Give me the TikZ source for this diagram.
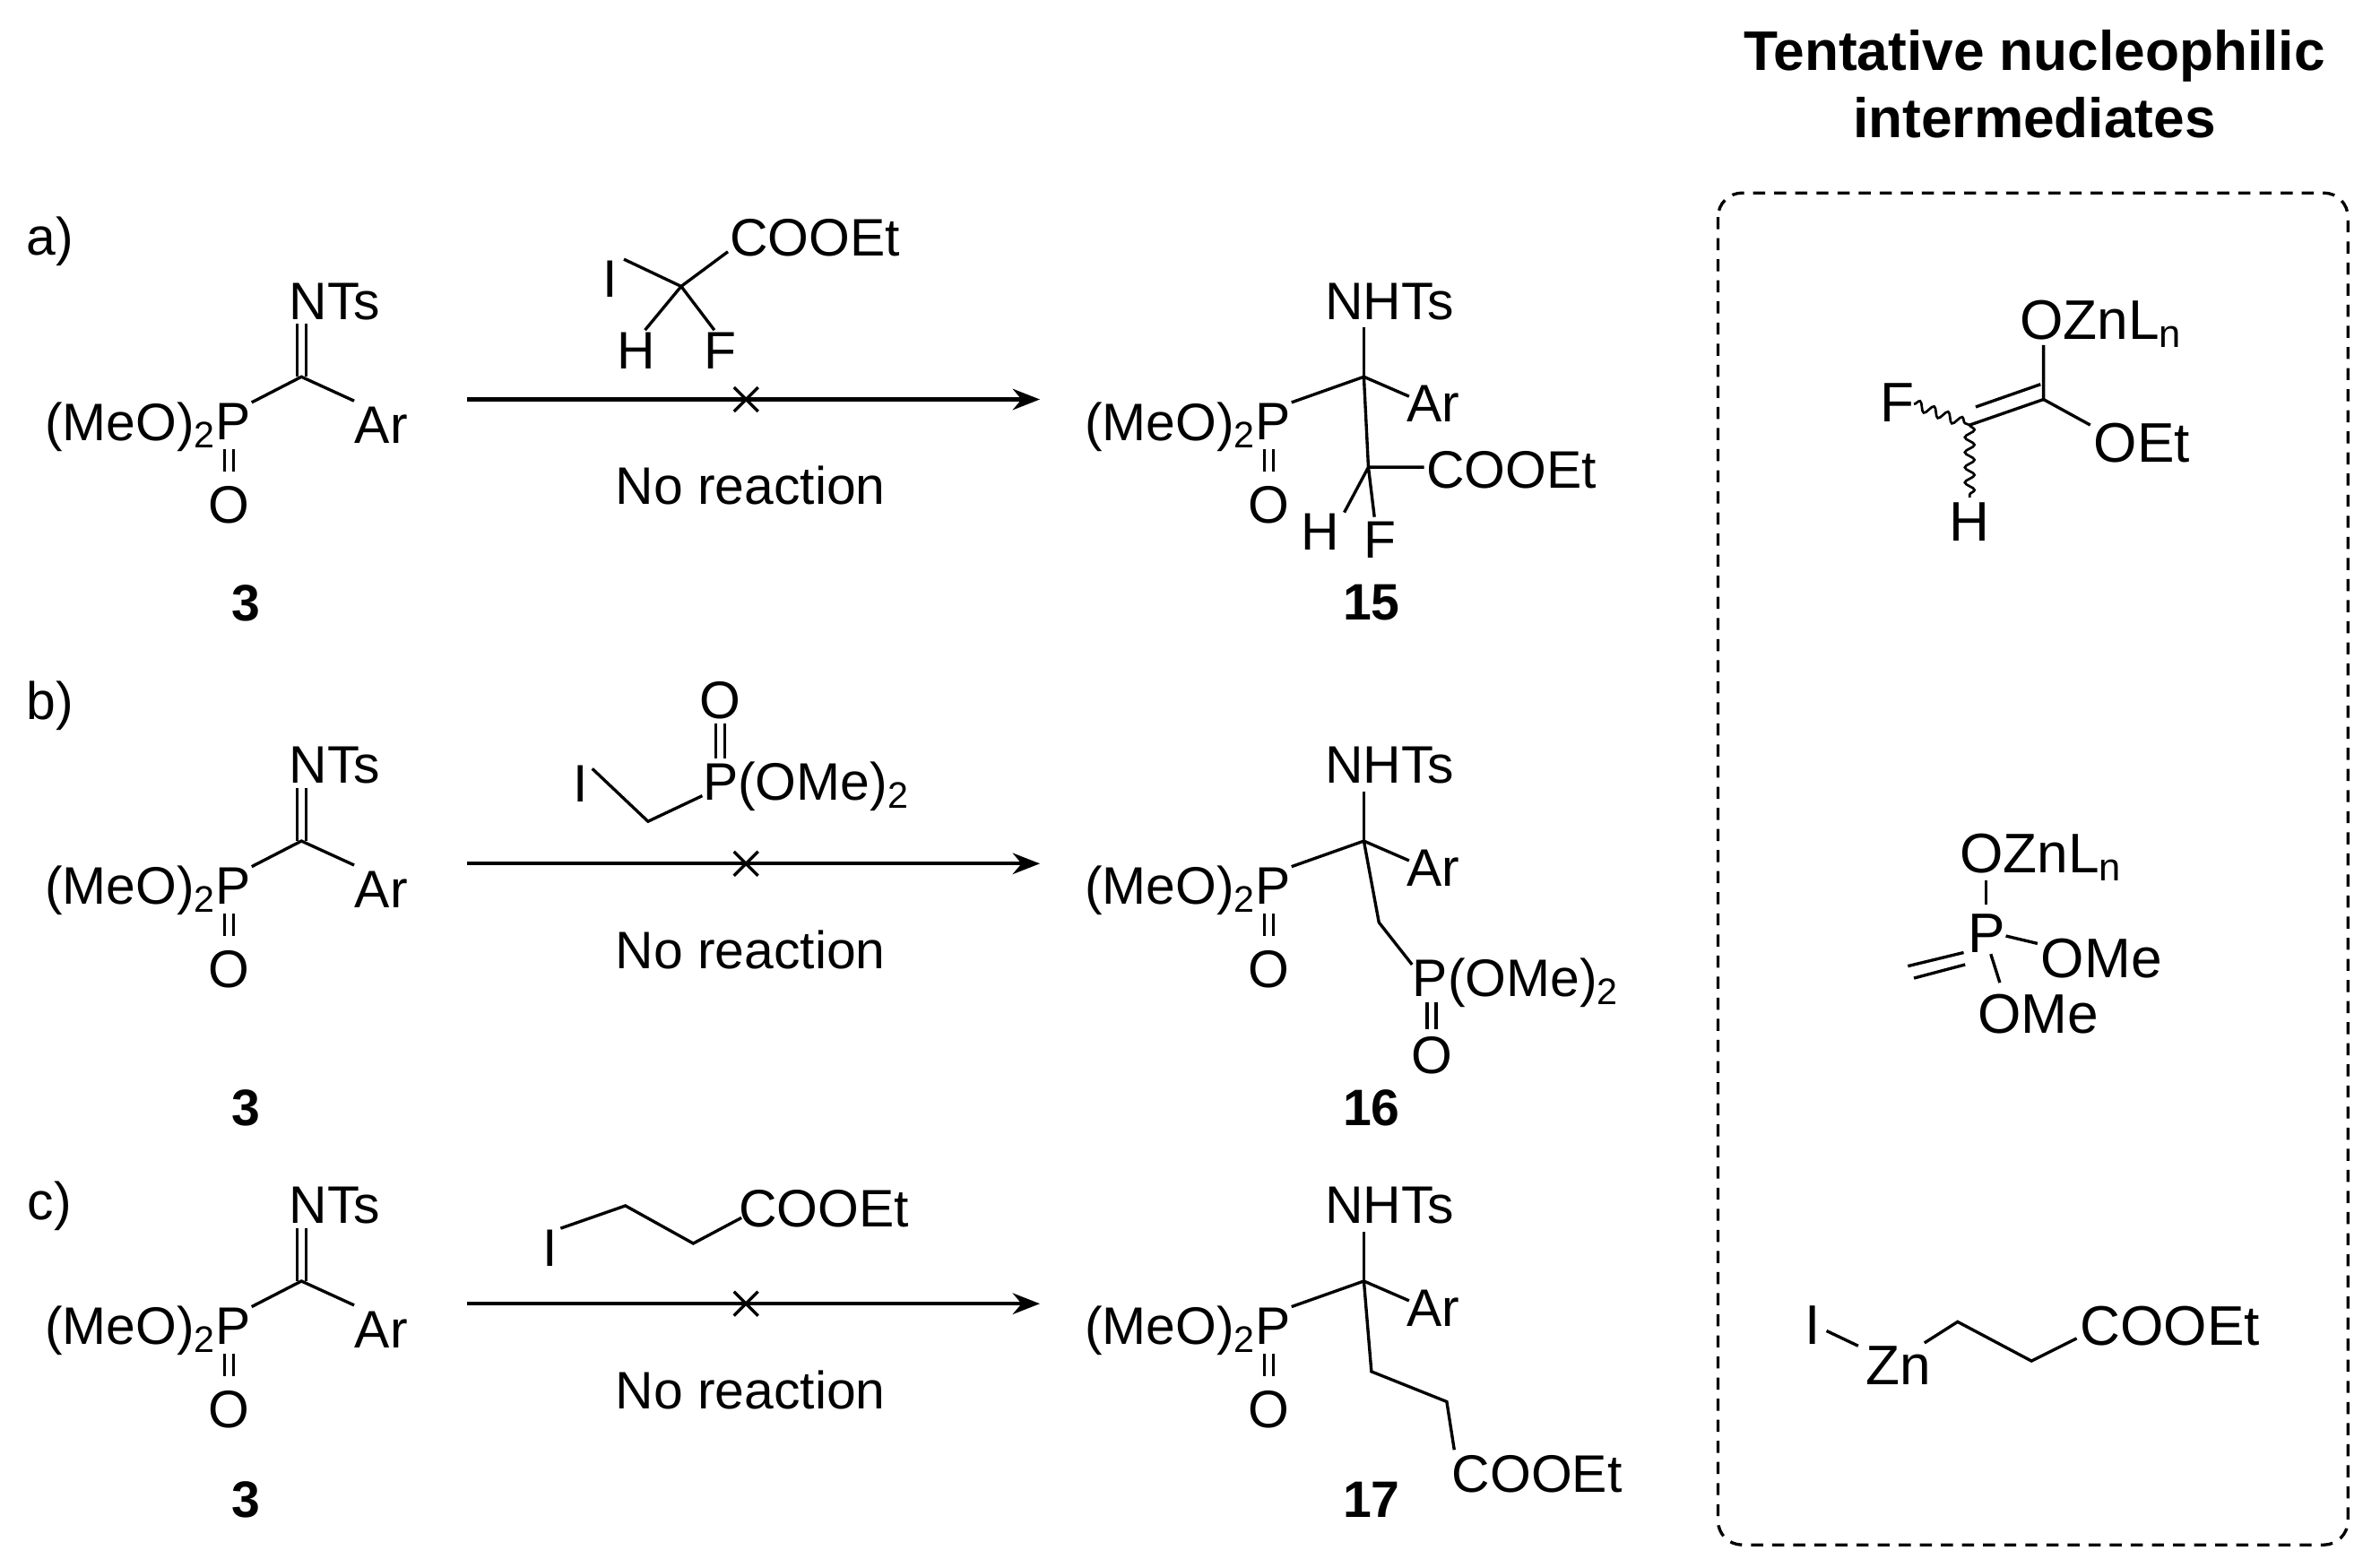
\documentclass[tikz,border=0pt]{standalone}
\usepackage{fontspec}
\setmainfont{Liberation Sans}
\usetikzlibrary{arrows.meta,decorations.pathmorphing}
\begin{document}
\begin{tikzpicture}[x=0.5pt,y=-0.5pt,
  t/.style={inner sep=0pt,font=\fontsize{17.5}{20}\selectfont},
  ti/.style={inner sep=0pt,font=\fontsize{18.5}{21}\selectfont},
  lab/.style={inner sep=0pt,font=\fontsize{17}{20}\selectfont\bfseries},
  tit/.style={inner sep=0pt,font=\fontsize{18.5}{21}\selectfont\bfseries},
  b/.style={line width=1pt},
  arr/.style={line width=1.2pt,-{Stealth[length=9pt,width=7pt]}},
  wavy/.style={line width=0.8pt,decorate,decoration={snake,amplitude=1.6pt,segment length=5pt}}]
\useasboundingbox (0,0) rectangle (1568,1040);
\node[tit] (title1) at (1350,37) {Tentative nucleophilic};
\node[tit] (title2) at (1350,78) {intermediates};
\draw[line width=1pt,dash pattern=on 4pt off 3pt,rounded corners=8pt] (1140,128) rectangle (1558,1025);

\foreach \off/\lb/\ll/\name/\ly in {0/400/a/A/160,308/427/b/B/160,600/395/c/C/200}{
\begin{scope}[yshift=-\off*0.5pt]
\node[t] at (33,\ly) {\ll)};
\node[t,anchor=east] (meo\name) at (144,283) {(MeO)\textsubscript{2}};
\node[t] (p\name) at (155,280) {P};
\node[t] (o\name) at (152,335) {O};
\coordinate (c\name) at (200,250);
\node[t] (nts\name) at (222,200) {NTs};
\node[t] (ar\name) at (253,282) {Ar};
\draw[b] (167,267) -- (c\name) -- (235,266);
\draw[b] (197,250) -- (197,215) (203,250) -- (203,215);
\draw[b] (149,298) -- (149,313) (155,298) -- (155,313);
\node[lab] at (163,\lb) {3};
\coordinate (s\name) at (310,265);
\coordinate (e\name) at (690,265);
\draw[arr] (s\name) -- (e\name);
\draw[b] (487,257) -- (503,273) (503,257) -- (487,273);
\node[t] (nr\name) at (498,322) {No reaction};
\node[t,anchor=east] (pmeo\name) at (834,283) {(MeO)\textsubscript{2}};
\node[t] (pp\name) at (845,280) {P};
\node[t] (po\name) at (842,335) {O};
\coordinate (q\name) at (905,250);
\node[t] (nh\name) at (922,200) {NHTs};
\node[t] (par\name) at (951,268) {Ar};
\draw[b] (857,267) -- (q\name) -- (935,263);
\draw[b] (q\name) -- (905,217);
\draw[b] (839,298) -- (839,313) (845,298) -- (845,313);
\end{scope}}

% a)
\node[t] (Ia) at (405,185) {I};
\coordinate (Ca) at (452,190);
\node[t,anchor=west] (ea) at (484,158) {COOEt};
\node[t] (Ha) at (422,233) {H};
\node[t] (Fa) at (478,233) {F};
\draw[b] (414,172) -- (Ca) -- (483,167);
\draw[b] (Ca) -- (428,219) (Ca) -- (474,219);
\coordinate (Cf) at (908,310);
\draw[b] (qA) -- (Cf) -- (945,310);
\node[t,anchor=west] (ea2) at (946,312) {COOEt};
\node[t] (Hp) at (876,353) {H};
\node[t] (Fp) at (916,358) {F};
\draw[b] (Cf) -- (892,340) (Cf) -- (912,343);
\node[lab] at (910,400) {15};

% b)
\node[t] (Ib) at (385,520) {I};
\coordinate (Cb) at (430,545);
\node[t,anchor=west] (pb) at (466,522) {P(OMe)\textsubscript{2}};
\node[t] (Ob) at (478,465) {O};
\draw[b] (393,510) -- (Cb) -- (466,528);
\draw[b] (475,480) -- (475,503) (481,480) -- (481,503);
\coordinate (Cb2) at (915,612);
\draw[b] (qB) -- (Cb2) -- (937,640);
\node[t,anchor=west] (pb2) at (937,652) {P(OMe)\textsubscript{2}};
\node[t] (Ob2) at (950,700) {O};
\draw[b] (947,665) -- (947,683) (953,665) -- (953,683);
\node[lab] at (910,735) {16};

% c)
\node[t] (Ic) at (365,828) {I};
\coordinate (C1c) at (415,800);
\coordinate (C2c) at (460,825);
\node[t,anchor=west] (ec) at (490,802) {COOEt};
\draw[b] (372,815) -- (C1c) -- (C2c) -- (492,808);
\coordinate (C1p) at (910,910);
\coordinate (C2p) at (960,930);
\draw[b] (qC) -- (C1p) -- (C2p) -- (965,962);
\node[t] (ec2) at (1020,978) {COOEt};
\node[lab] at (910,995) {17};

% intermediates
\node[ti,anchor=west] (oz1) at (1340,215) {OZnL\textsubscript{n}};
\coordinate (k1) at (1356,265);
\coordinate (k2) at (1307,282);
\draw[b] (1356,229) -- (k1) -- (1387,282);
\draw[b] (k1) -- (k2) (1354,255) -- (1311,270);
\node[ti,anchor=west] (oet) at (1389,294) {OEt};
\node[ti] (F1) at (1259,267) {F};
\node[ti] (H1) at (1307,346) {H};
\draw[wavy] (1270,268) -- (k2);
\draw[wavy] (k2) -- (1307,330);

\node[ti,anchor=west] (oz2) at (1300,569) {OZnL\textsubscript{n}};
\node[ti] (P2) at (1318,619) {P};
\node[ti,anchor=west] (om1) at (1354,636) {OMe};
\node[ti,anchor=west] (om2) at (1312,673) {OMe};
\draw[b] (1318,584) -- (1318,600);
\draw[b] (1331,621) -- (1352,626);
\draw[b] (1321,633) -- (1327,652);
\draw[b] (1266,641) -- (1303,632) (1270,649) -- (1304,640);

\node[ti] (I3) at (1203,879) {I};
\node[ti] (Zn3) at (1260,906) {Zn};
\node[ti,anchor=west] (e3) at (1380,880) {COOEt};
\draw[b] (1212,883) -- (1233,893);
\draw[b] (1277,891) -- (1299,877) -- (1348,903) -- (1378,888);
\end{tikzpicture}
\end{document}
